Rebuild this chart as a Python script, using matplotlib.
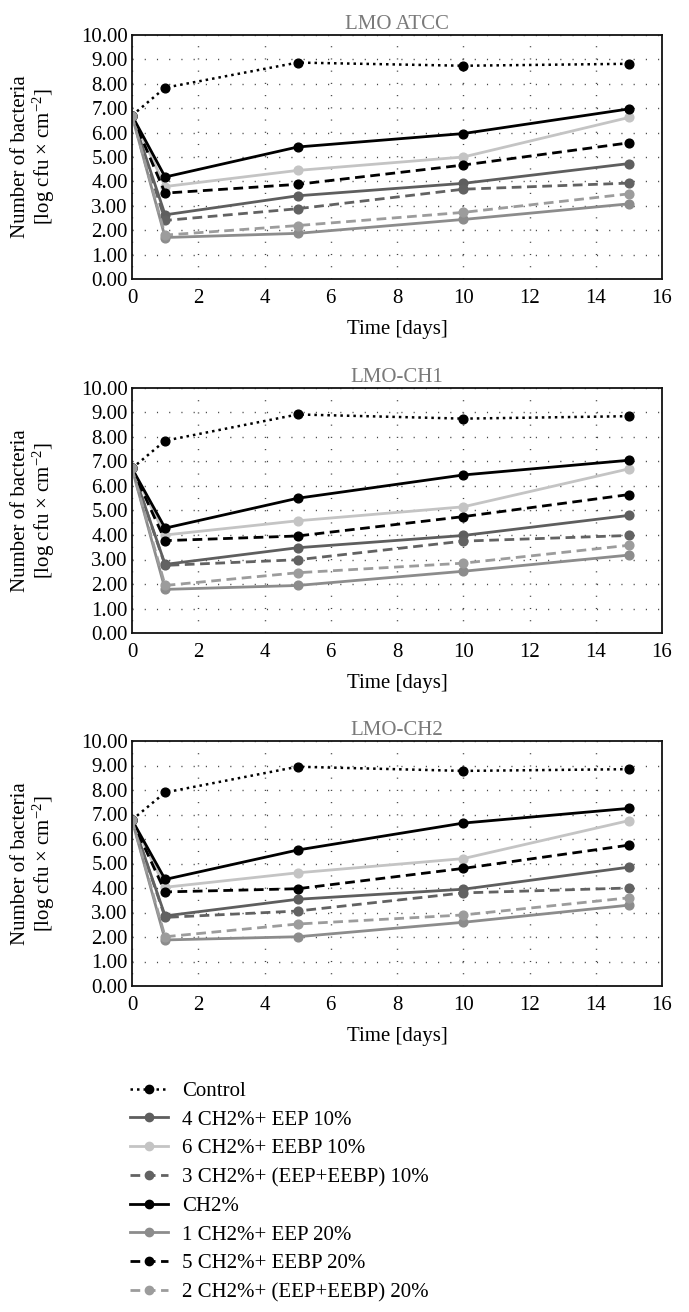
import matplotlib
matplotlib.use("Agg")
import matplotlib.pyplot as plt
from matplotlib.ticker import FormatStrFormatter, MultipleLocator

plt.rcParams['font.family'] = ['Liberation Serif', 'DejaVu Serif']
plt.rcParams['mathtext.fontset'] = 'custom'
plt.rcParams['mathtext.rm'] = 'Liberation Serif'
plt.rcParams['mathtext.it'] = 'Liberation Serif:italic'

days = [0, 1, 5, 10, 15]

series_names = [
    "Control",
    "4 CH2%+ EEP 10%",
    "6 CH2%+ EEBP 10%",
    "3 CH2%+ (EEP+EEBP) 10%",
    "CH2%",
    "1 CH2%+ EEP 20%",
    "5 CH2%+ EEBP 20%",
    "2 CH2%+ (EEP+EEBP) 20%",
]

panel_titles = ["LMO ATCC", "LMO-CH1", "LMO-CH2"]

# Panel 1: LMO ATCC
atcc_control = [6.70, 7.84, 8.87, 8.74, 8.82]
atcc_eep10 = [6.70, 2.63, 3.41, 3.92, 4.73]
atcc_eebp10 = [6.70, 3.79, 4.45, 5.00, 6.62]
atcc_mix10 = [6.70, 2.40, 2.88, 3.68, 3.93]
atcc_ch2 = [6.70, 4.18, 5.41, 5.96, 6.97]
atcc_eep20 = [6.70, 1.70, 1.87, 2.44, 3.08]
atcc_eebp20 = [6.70, 3.52, 3.88, 4.67, 5.58]
atcc_mix20 = [6.70, 1.80, 2.19, 2.73, 3.49]

# Panel 2: LMO-CH1
ch1_control = [6.72, 7.85, 8.92, 8.75, 8.85]
ch1_eep10 = [6.72, 2.80, 3.48, 3.98, 4.80]
ch1_eebp10 = [6.72, 4.00, 4.58, 5.15, 6.70]
ch1_mix10 = [6.72, 2.76, 2.99, 3.75, 3.98]
ch1_ch2 = [6.72, 4.28, 5.50, 6.45, 7.05]
ch1_eep20 = [6.72, 1.78, 1.94, 2.52, 3.18]
ch1_eebp20 = [6.72, 3.77, 3.96, 4.75, 5.65]
ch1_mix20 = [6.72, 1.94, 2.46, 2.85, 3.58]

# Panel 3: LMO-CH2
ch2_control = [6.78, 7.90, 8.95, 8.78, 8.85]
ch2_eep10 = [6.78, 2.86, 3.54, 3.95, 4.85]
ch2_eebp10 = [6.78, 4.03, 4.62, 5.20, 6.75]
ch2_mix10 = [6.78, 2.80, 3.06, 3.80, 4.00]
ch2_ch2 = [6.78, 4.35, 5.55, 6.65, 7.25]
ch2_eep20 = [6.78, 1.88, 2.01, 2.60, 3.30]
ch2_eebp20 = [6.78, 3.84, 3.97, 4.80, 5.75]
ch2_mix20 = [6.78, 2.01, 2.53, 2.90, 3.60]

panels = [
    [atcc_control, atcc_eep10, atcc_eebp10, atcc_mix10, atcc_ch2, atcc_eep20, atcc_eebp20, atcc_mix20],
    [ch1_control, ch1_eep10, ch1_eebp10, ch1_mix10, ch1_ch2, ch1_eep20, ch1_eebp20, ch1_mix20],
    [ch2_control, ch2_eep10, ch2_eebp10, ch2_mix10, ch2_ch2, ch2_eep20, ch2_eebp20, ch2_mix20],
]

styles = [
    dict(color="#000000", ls=(0, (1, 1.6)), lw=1.8),
    dict(color="#5e5e5e", ls="-", lw=2.0),
    dict(color="#c4c4c4", ls="-", lw=2.0),
    dict(color="#626262", ls=(0, (3.5, 2)), lw=2.0),
    dict(color="#000000", ls="-", lw=2.0),
    dict(color="#8c8c8c", ls="-", lw=2.0),
    dict(color="#000000", ls=(0, (3.5, 2)), lw=2.0),
    dict(color="#9c9c9c", ls=(0, (3.5, 2)), lw=2.0),
]

W, H = 689, 1312
fig = plt.figure(figsize=(W / 100, H / 100), dpi=100)

ax_boxes = [(132, 35, 662, 279), (132, 388, 662, 633), (132, 741, 662, 986)]

handles = []
for p, (x0, y0, x1, y1) in enumerate(ax_boxes):
    ax = fig.add_axes([x0 / W, 1 - y1 / H, (x1 - x0) / W, (y1 - y0) / H])
    ax.set_xlim(0, 16)
    ax.set_ylim(0, 10)
    ax.xaxis.set_major_locator(MultipleLocator(2))
    ax.yaxis.set_major_locator(MultipleLocator(1))
    ax.yaxis.set_major_formatter(FormatStrFormatter('%.2f'))
    ax.tick_params(length=0, labelsize=15)
    ax.tick_params(axis='x', pad=7)
    ax.tick_params(axis='y', pad=3)
    ax.grid(True, color="#444444", linestyle=(0, (0.8, 8)), lw=1.0)
    for s in ax.spines.values():
        s.set_linewidth(1.3)
        s.set_color("#111111")
    for vals, st, name in zip(panels[p], styles, series_names):
        ln, = ax.plot(days, vals, color=st["color"], linestyle=st["ls"], lw=st["lw"],
                      marker="o", markersize=6.3, markerfacecolor=st["color"],
                      markeredgecolor=st["color"], label=name)
        if p == 0:
            handles.append(ln)
    ax.set_title(panel_titles[p], fontsize=15, color="#7a7a7a", pad=4)
    ax.set_xlabel("Time [days]", fontsize=15, labelpad=9)
    ax.set_ylabel("Number of bacteria\n[log cfu $\\times$ cm$^{-2}$]", fontsize=15,
                  linespacing=1.05)
    ax.yaxis.set_label_coords(-0.142, 0.5)

leg = fig.legend(handles=handles, loc="upper left",
                 bbox_to_anchor=(122 / W, 1 - 1073 / H), frameon=False,
                 fontsize=15, handlelength=1.8, handletextpad=0.7,
                 labelspacing=0.44, borderaxespad=0)
for lh in leg.legend_handles:
    lh.set_markersize(6)

fig.savefig("out.png", dpi=100)
